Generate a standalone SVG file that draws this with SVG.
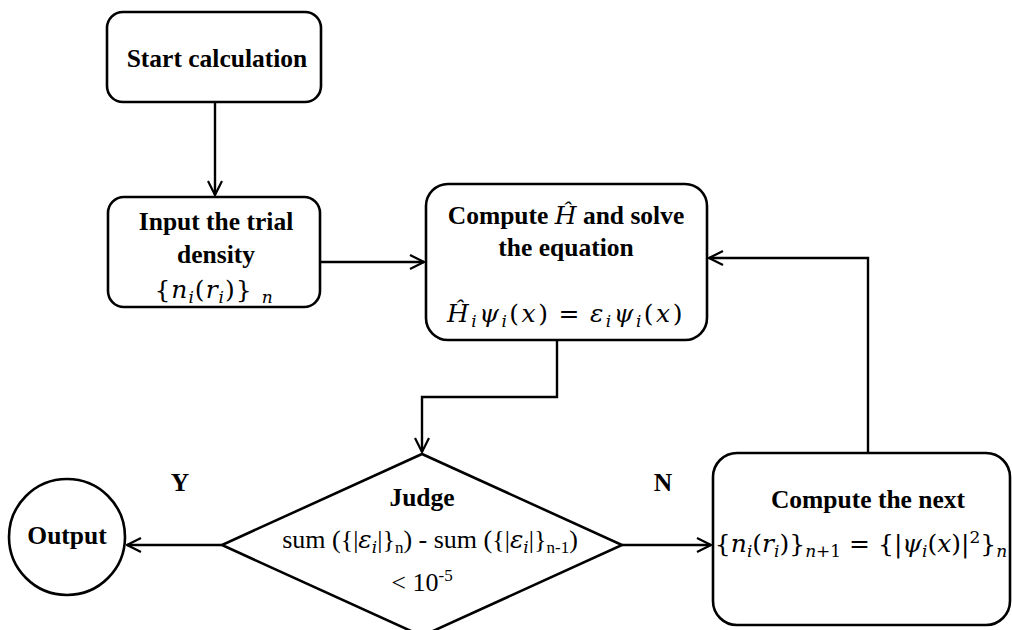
<svg xmlns="http://www.w3.org/2000/svg" width="1012" height="630" viewBox="0 0 1012 630">
<style>
.box{fill:#fff;stroke:#000;stroke-width:2.6}
.b{font-family:"Liberation Serif",serif;font-weight:bold;font-size:25.5px;fill:#000}
.t{font-family:"Liberation Serif",serif;font-size:26px;fill:#000}
.m{font-family:"DejaVu Serif",serif;font-size:25px;fill:#000}
.i{font-style:italic}
.s{font-size:17px}
.c{fill:none;stroke:#000;stroke-width:2.4}
</style>
<defs>
<marker id="arr" viewBox="0 0 16 16" refX="15" refY="8" markerWidth="16" markerHeight="16" markerUnits="userSpaceOnUse" orient="auto">
<path d="M1,1 L15,8 L1,15" fill="none" stroke="#000" stroke-width="2.2"/>
</marker>
</defs>
<rect width="1012" height="630" fill="#fff"/>
<g id="connectors">
<path class="c" d="M215,102 V195" marker-end="url(#arr)"/>
<path class="c" d="M320,262 H424" marker-end="url(#arr)"/>
<path class="c" d="M557,340 V397 H422 V452" marker-end="url(#arr)"/>
<path class="c" d="M222,545 H127" marker-end="url(#arr)"/>
<path class="c" d="M622,545 H711" marker-end="url(#arr)"/>
<path class="c" d="M868,453 V258 H709" marker-end="url(#arr)"/>
<text class="b" x="180" y="491" text-anchor="middle">Y</text>
<text class="b" x="663" y="491" text-anchor="middle">N</text>
</g>
<g id="start">
<rect class="box" x="107" y="12" width="214" height="90" rx="16"/>
<text class="b" x="217" y="67" text-anchor="middle">Start calculation</text>
</g>
<g id="input">
<rect class="box" x="108" y="197" width="212" height="110" rx="16"/>
<text class="b" x="216" y="230" text-anchor="middle">Input the trial</text>
<text class="b" x="216" y="263" text-anchor="middle">density</text>
<text class="m" x="214" y="298" text-anchor="middle" letter-spacing="1">{<tspan class="i">n</tspan><tspan class="s i" dy="5">i</tspan><tspan dy="-5">(</tspan><tspan class="i">r</tspan><tspan class="s i" dy="5">i</tspan><tspan dy="-5">)} </tspan><tspan class="s i" dy="5">n</tspan></text>
</g>
<g id="compute">
<rect class="box" x="426" y="184" width="281" height="156" rx="22"/>
<text class="b" x="566" y="224" text-anchor="middle">Compute <tspan class="m i" font-weight="normal">Ĥ</tspan> and solve</text>
<text class="b" x="566" y="256" text-anchor="middle">the equation</text>
<text class="m" x="566" y="322" text-anchor="middle" letter-spacing="2.5"><tspan class="i">Ĥ</tspan><tspan class="s i" dy="5">i</tspan><tspan class="i" dy="-5">ψ</tspan><tspan class="s i" dy="5">i</tspan><tspan dy="-5">(</tspan><tspan class="i">x</tspan><tspan>)</tspan><tspan dx="8">=</tspan><tspan class="i" dx="8">ε</tspan><tspan class="s i" dy="5">i</tspan><tspan class="i" dy="-5">ψ</tspan><tspan class="s i" dy="5">i</tspan><tspan dy="-5">(</tspan><tspan class="i">x</tspan><tspan>)</tspan></text>
</g>
<g id="judge">
<polygon class="box" points="422,454 622,545 422,636 222,545"/>
<text class="b" x="422" y="506" text-anchor="middle">Judge</text>
<text class="t" x="430" y="548" text-anchor="middle">sum ({|<tspan class="m i">ε</tspan><tspan class="m s i" dy="5">i</tspan><tspan dy="-5">|}</tspan><tspan class="s" dy="5">n</tspan><tspan dy="-5">) - sum ({|</tspan><tspan class="m i">ε</tspan><tspan class="m s i" dy="5">i</tspan><tspan dy="-5">|}</tspan><tspan class="s" dy="5">n-1</tspan><tspan dy="-5">)</tspan></text>
<text class="t" x="422" y="591" text-anchor="middle">&lt; 10<tspan class="s" dy="-10">-5</tspan></text>
</g>
<g id="output">
<circle class="box" cx="67" cy="537" r="58"/>
<text class="b" x="67" y="544" text-anchor="middle">Output</text>
</g>
<g id="next">
<rect class="box" x="713" y="453" width="297" height="172" rx="24"/>
<text class="b" x="868" y="508" text-anchor="middle">Compute the next</text>
<text class="m" x="861" y="552" text-anchor="middle">{<tspan class="i">n</tspan><tspan class="s i" dy="5">i</tspan><tspan dy="-5">(</tspan><tspan class="i">r</tspan><tspan class="s i" dy="5">i</tspan><tspan dy="-5">)}</tspan><tspan class="s i" dy="5">n</tspan><tspan class="s">+1</tspan><tspan dy="-5"> = {|</tspan><tspan class="i">ψ</tspan><tspan class="s i" dy="5">i</tspan><tspan dy="-5">(</tspan><tspan class="i">x</tspan><tspan>)|</tspan><tspan class="s" dy="-9">2</tspan><tspan dy="9">}</tspan><tspan class="s i" dy="5">n</tspan></text>
</g>
</svg>
